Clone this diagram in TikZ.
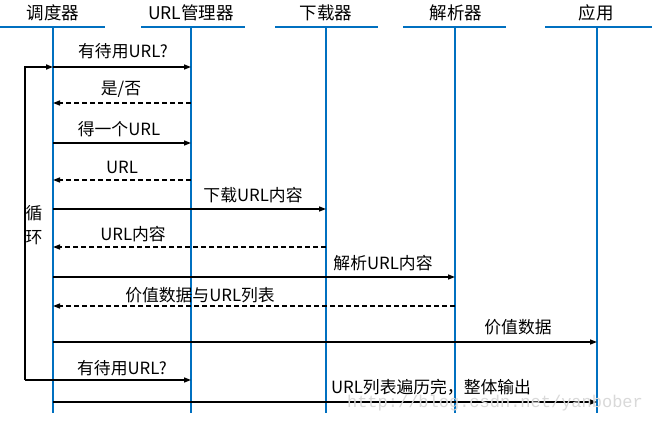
\documentclass[tikz,border=0pt]{standalone}
\usepackage{fontspec}
\setmainfont{Noto Sans CJK SC}
\newfontfamily\wmfont{Liberation Mono}
\usetikzlibrary{arrows.meta}
\definecolor{lifeblue}{HTML}{0070C0}
\begin{document}
\begin{tikzpicture}[x=1pt,y=-1pt,
  lifeline/.style={draw=lifeblue,line width=1.8pt},
  headline/.style={draw=lifeblue,line width=2pt},
  headtext/.style={font=\fontsize{17.5}{20}\selectfont,inner sep=0pt,anchor=center},
  lbl/.style={font=\fontsize{16.8}{20}\selectfont,inner sep=0pt,anchor=center},
  msg/.style={draw=black,line width=1.4pt,-{Triangle[length=7pt,width=5pt]}},
  reply/.style={msg,dashed,dash pattern=on 5pt off 3pt},
  loopline/.style={draw=black,line width=1.6pt}]
\useasboundingbox (0,0) rectangle (652,420);
\fill[white] (0,0) rectangle (652,420);
% lifeline anchors
\coordinate (L1) at (53,27);
\coordinate (L2) at (191,27);
\coordinate (L3) at (326,27);
\coordinate (L4) at (455,27);
\coordinate (L5) at (597,27);
\coordinate (B1) at (53,413);
\coordinate (B2) at (191,413);
\coordinate (B3) at (326,413);
\coordinate (B4) at (455,413);
\coordinate (B5) at (597,413);
% headers
\node[headtext] (h1) at (53,13) {调度器};
\node[headtext] (h2) at (191,13) {URL管理器};
\node[headtext] (h3) at (326,13) {下载器};
\node[headtext] (h4) at (456,13) {解析器};
\node[headtext] (h5) at (596,13) {应用};
\draw[headline] (0,27) -- (105,27);
\draw[headline] (141,27) -- (245,27);
\draw[headline] (275,27) -- (378,27);
\draw[headline] (403,27) -- (506,27);
\draw[headline] (545,27) -- (652,27);
\draw[lifeline] (L1) -- (B1);
\draw[lifeline] (L2) -- (B2);
\draw[lifeline] (L3) -- (B3);
\draw[lifeline] (L4) -- (B4);
\draw[lifeline] (L5) -- (B5);
% rows
\coordinate (r1) at (0,67);
\coordinate (r2) at (0,103);
\coordinate (r3) at (0,143);
\coordinate (r4) at (0,180);
\coordinate (r5) at (0,209);
\coordinate (r6) at (0,247);
\coordinate (r7) at (0,277);
\coordinate (r8) at (0,306);
\coordinate (r9) at (0,342);
\coordinate (r10) at (0,380);
\coordinate (r11) at (0,402);
% messages
\draw[msg] (L1|-r1) -- (L2|-r1);
\node[lbl] (t1) at (123,51) {有待用URL?};
\draw[reply] (L2|-r2) -- (L1|-r2);
\node[lbl] (t2) at (121,89) {是/否};
\draw[msg] (L1|-r3) -- (L2|-r3);
\node[lbl] (t3) at (119,129) {得一个URL};
\draw[reply] (L2|-r4) -- (L1|-r4);
\node[lbl] (t4) at (122,167) {URL};
\draw[msg] (L1|-r5) -- (L3|-r5);
\node[lbl] (t5) at (253,195) {下载URL内容};
\draw[reply] (L3|-r6) -- (L1|-r6);
\node[lbl] (t6) at (133,234) {URL内容};
\draw[msg] (L1|-r7) -- (L4|-r7);
\node[lbl] (t7) at (383,263) {解析URL内容};
\draw[reply] (L4|-r8) -- (L1|-r8);
\node[lbl] (t8) at (200,295) {价值数据与URL列表};
\draw[msg] (L1|-r9) -- (L5|-r9);
\node[lbl] (t9) at (518,327) {价值数据};
\draw[msg] (L1|-r10) -- (L2|-r10);
\node[lbl] (t10) at (122,368) {有待用URL?};
\draw[msg] (L1|-r11) -- (L5|-r11);
\node[lbl] (t11) at (431,387) {URL列表遍历完，整体输出};
% loop
\coordinate (lp) at (25,0);
\draw[loopline,-{Triangle[length=7pt,width=5pt]}] (lp|-r10) -- (lp|-r1) -- (L1|-r1);
\draw[loopline] (lp|-r10) -- (L1|-r10);
\node[lbl] (lt1) at (34,213) {循};
\node[lbl] (lt2) at (34,238) {环};
% watermark
\node[font=\wmfont\fontsize{17}{20}\selectfont,text=gray!30,inner sep=0pt] (wm) at (495,403) {http://blog.csdn.net/yanbober};
\end{tikzpicture}
\end{document}
